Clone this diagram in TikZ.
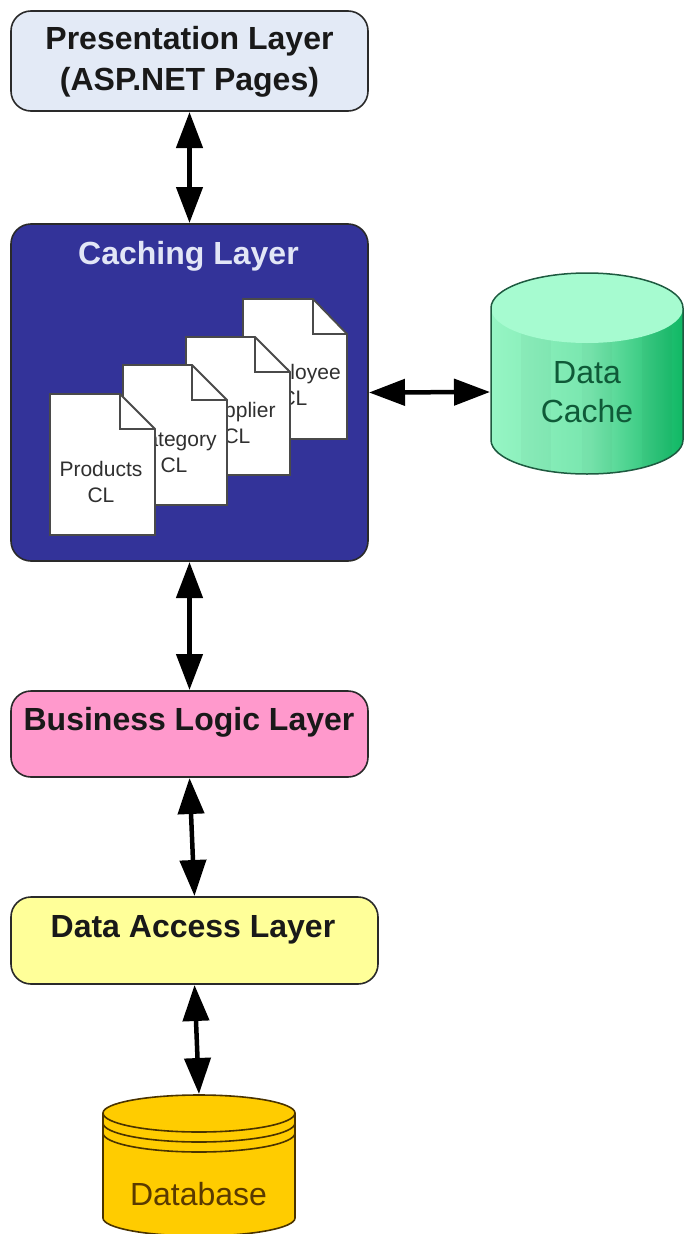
\documentclass[tikz,border=0pt]{standalone}
\usepackage{fontspec}
\setmainfont{Liberation Sans}
\usetikzlibrary{arrows.meta,calc}
\definecolor{presfill}{HTML}{E3EAF6}
\definecolor{cachefill}{HTML}{333399}
\definecolor{bllfill}{HTML}{FF99CC}
\definecolor{dalfill}{HTML}{FFFF99}
\definecolor{dbfill}{HTML}{FFCC00}
\definecolor{edge}{HTML}{2A2A2A}
\definecolor{captext}{HTML}{E2E6F6}
\definecolor{doctext}{HTML}{303030}
\definecolor{cachetext}{HTML}{0F5A38}
\definecolor{dbtext}{HTML}{5A3A00}
\definecolor{dbedge}{HTML}{4A3300}
\definecolor{cacheedge}{HTML}{1E5A40}
\definecolor{greentop}{HTML}{A6FBD0}
\definecolor{greenA}{HTML}{96F5C4}
\definecolor{greenB}{HTML}{78E6AE}
\definecolor{greenC}{HTML}{0FB864}
\tikzset{
  layerbox/.style={draw=edge,line width=1.6pt,rounded corners=20pt,inner sep=0pt,outer sep=0pt},
  big/.style={inner sep=0pt,align=center,font=\fontsize{32}{41}\selectfont},
  bigb/.style={big,font=\fontsize{32}{41}\selectfont\bfseries},
  small/.style={inner sep=0pt,align=center,text=doctext,font=\fontsize{21}{26}\selectfont},
  ghost/.style={inner sep=0pt,outer sep=0pt},
  link/.style={line width=4.5pt,{Triangle[length=36pt,width=26pt]}-{Triangle[length=36pt,width=26pt]},shorten <=1pt,shorten >=1pt},
  docline/.style={draw=edge!85,line width=1.8pt,fill=white,line join=miter},
}
\newcommand{\docpage}[5]{%
  \draw[docline] (#1,#2) -- (#5,#2) -- (#3,#2+35) -- (#3,#4) -- (#1,#4) -- cycle;
  \draw[docline,fill=none] (#5,#2) -- (#5,#2+35) -- (#3,#2+35);
}
\begin{document}
\begin{tikzpicture}[x=1pt,y=-1pt]
\useasboundingbox (0,0) rectangle (683,1234);
\fill[white] (0,0) rectangle (683,1234);

% layers
\node[layerbox,fill=presfill,minimum width=357pt,minimum height=100pt] (pres) at (189.5,61) {};
\node[bigb,text=black!90] (prestext) at (189.5,61.5) {Presentation Layer\\(ASP.NET Pages)};
\node[layerbox,fill=cachefill,minimum width=357pt,minimum height=337pt] (caching) at (189.5,392.5) {};
\node[bigb,text=captext] (cachingtext) at (188.5,256) {Caching Layer};
\node[layerbox,fill=bllfill,minimum width=357pt,minimum height=86pt] (bll) at (189.5,734) {};
\node[bigb,text=black!90] (blltext) at (189,722) {Business Logic Layer};
\node[layerbox,fill=dalfill,minimum width=367pt,minimum height=87pt] (dal) at (194.5,940.5) {};
\node[bigb,text=black!90] (daltext) at (193,930) {Data Access Layer};

% pages, back to front
\docpage{243}{299}{347}{439}{313}
\node[small] (emp) at (294,385) {Employee\\CL};
\docpage{186}{337}{290}{475}{255}
\node[small] (sup) at (237,423) {Supplier\\CL};
\docpage{123}{365}{227}{505}{192}
\node[small] (cat) at (174,452) {Category\\CL};
\docpage{50}{394}{155}{535}{120}
\node[small] (prod) at (101,481.5) {Products\\CL};

% data cache cylinder
\begin{scope}
  \clip (491,308) -- (491,440) arc[start angle=180,end angle=0,x radius=96,y radius=34] -- (683,308) -- cycle;
  \fill[greenA] (491,270) rectangle (683,480);
  \shade[left color=greenA,right color=greenB] (491,270) rectangle (590,480);
  \shade[left color=greenB,right color=greenC] (590,270) rectangle (683,480);
  \foreach \xx/\op in {521/.025,582/.02,642/.025}
    \fill[black,opacity=\op] (\xx,270) rectangle (\xx+30,480);
\end{scope}
\fill[greentop] (587,308) ellipse[x radius=96,y radius=35];
\draw[cacheedge,line width=1.5pt] (491,308) arc[start angle=180,end angle=360,x radius=96,y radius=35] -- (683,440) arc[start angle=0,end angle=180,x radius=96,y radius=34] -- cycle;
\node[big,font=\fontsize{32}{39}\selectfont,text=cachetext,minimum width=192pt,minimum height=60pt,outer sep=0pt] (cache) at (587,392) {Data\\Cache};

% database cylinder
\node[ghost,minimum width=192pt,minimum height=141pt] (db) at (199,1165.5) {};
\draw[dbedge,fill=dbfill,line width=1.6pt] (103,1113) arc[start angle=180,end angle=360,x radius=96,y radius=18] -- (295,1218) arc[start angle=0,end angle=180,x radius=96,y radius=18] -- cycle;
\foreach \yy in {1113,1123,1133}
  \draw[dbedge,line width=1.6pt] (103,\yy) arc[start angle=180,end angle=0,x radius=96,y radius=19];
\node[big,text=dbtext] (dbtxt) at (198.5,1194) {Database};

% connectors
\draw[link] (pres.south) -- (caching.north);
\draw[link] (caching.south) -- (bll.north);
\draw[link] (bll.south) -- (dal.north);
\draw[link] (dal.south) -- (db.north);
\draw[link] (caching.east) -- (cache.west);
\end{tikzpicture}
\end{document}
